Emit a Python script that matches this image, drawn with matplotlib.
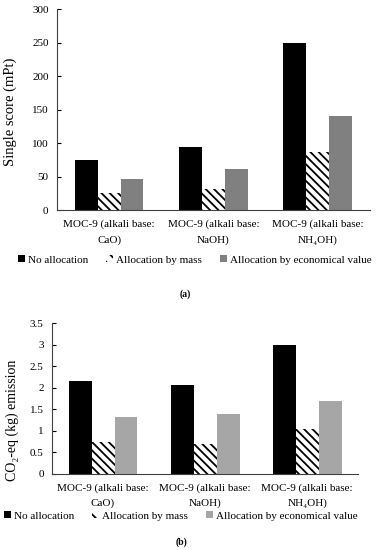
import matplotlib
matplotlib.use("Agg")
import matplotlib.pyplot as plt
from matplotlib.patches import Patch
import numpy as np

plt.rcParams['font.family'] = ['Liberation Serif', 'DejaVu Serif']
plt.rcParams['hatch.linewidth'] = 1.3

categories = ["MOC-9 (alkali base:\nCaO)", "MOC-9 (alkali base:\nNaOH)", "MOC-9 (alkali base:\nNH₄OH)"]
series = ["No allocation", "Allocation by mass", "Allocation by economical value"]
single_score = {
    "No allocation": [75, 94, 249],
    "Allocation by mass": [26, 31, 87],
    "Allocation by economical value": [46, 62, 141],
}
co2_emission = {
    "No allocation": [2.15, 2.06, 2.98],
    "Allocation by mass": [0.74, 0.69, 1.05],
    "Allocation by economical value": [1.33, 1.38, 1.69],
}
ticks_a = [0, 50, 100, 150, 200, 250, 300]
ticks_b = [0, 0.5, 1, 1.5, 2, 2.5, 3, 3.5]
tick_labels_b = ["0", "0.5", "1", "1.5", "2", "2.5", "3", "3.5"]

fig = plt.figure(figsize=(3.77, 5.5), dpi=100)

def draw(ax, data, gray, width, ticks, ticklabels, ymax):
    x = np.arange(len(categories))
    styles = [dict(facecolor='black', edgecolor='black', linewidth=0),
              dict(facecolor='white', edgecolor='black', hatch='\\\\\\\\', linewidth=0),
              dict(facecolor=gray, edgecolor=gray, linewidth=0)]
    for i, s in enumerate(series):
        ax.bar(x + (i - 1) * width, data[s], width, **styles[i])
    handles = [Patch(facecolor='black', edgecolor='black', linewidth=0, label=series[0]),
               Patch(facecolor='white', edgecolor='black', hatch='\\\\\\', linewidth=0, label=series[1]),
               Patch(facecolor=gray, edgecolor=gray, linewidth=0, label=series[2])]
    ax.set_xlim(-0.5, 2.5)
    ax.set_ylim(0, ymax)
    ax.set_yticks(ticks)
    ax.set_yticklabels(ticklabels)
    ax.set_xticks(x)
    ax.set_xticklabels(categories, linespacing=1.75)
    ax.tick_params(axis='x', length=0, labelsize=8, pad=7)
    ax.tick_params(axis='y', direction='in', length=3, labelsize=8, pad=6, width=0.8)
    for sp in ['top', 'right']:
        ax.spines[sp].set_visible(False)
    ax.spines['left'].set_color('#404040')
    ax.spines['bottom'].set_color('#404040')
    return handles

ax1 = fig.add_axes([0.151, 0.618, 0.830, 0.3655])
h1 = draw(ax1, single_score, '#808080', 0.22, ticks_a, [str(t) for t in ticks_a], 300)
fig.text(10 / 377, 1 - 112 / 550, "Single score (mPt)", rotation=90, ha='center', va='center', fontsize=10.5)
fig.legend(handles=h1, loc='center', bbox_to_anchor=(195 / 377, 1 - 260 / 550), ncol=3, frameon=False,
           fontsize=8, handlelength=0.6, handleheight=0.6, handletextpad=0.3, columnspacing=1.6)
fig.text(185 / 377, 1 - 294 / 550, "(a)", ha='center', va='center', fontsize=7, fontweight='bold')

ax2 = fig.add_axes([0.138, 0.1382, 0.812, 0.2745])
h2 = draw(ax2, co2_emission, '#a6a6a6', 0.225, ticks_b, tick_labels_b, 3.5)
fig.text(12 / 377, 1 - 420 / 550, "CO₂-eq (kg) emission", rotation=90, ha='center', va='center', fontsize=10)
fig.legend(handles=h2, loc='center', bbox_to_anchor=(181 / 377, 1 - 516 / 550), ncol=3, frameon=False,
           fontsize=8, handlelength=0.6, handleheight=0.6, handletextpad=0.3, columnspacing=1.6)
fig.text(181 / 377, 1 - 542 / 550, "(b)", ha='center', va='center', fontsize=7, fontweight='bold')

fig.savefig("out.png", dpi=100)
